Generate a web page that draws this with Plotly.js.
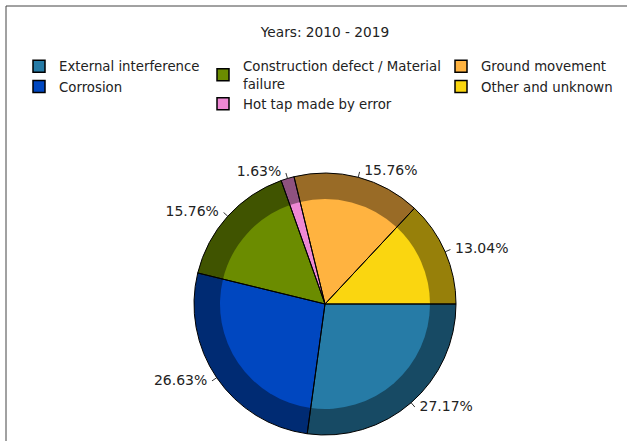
<!DOCTYPE html>
<html><head><meta charset="utf-8">
<script src="https://cdn.plot.ly/plotly-3.0.1.min.js"></script>
<style>html,body{margin:0;padding:0;background:#fff}#chart{width:627px;height:441px}</style>
</head><body><div id="chart"></div>
<script>
// ---- data ----
const chartTitle = 'Years: 2010 - 2019';
const categories = ['External interference', 'Corrosion', 'Construction defect / Material<br>failure',
                    'Hot tap made by error', 'Ground movement', 'Other and unknown'];
const shares = [27.17, 26.63, 15.76, 1.63, 15.76, 13.04];
const lightColors = ['#267ba6', '#0047c0', '#6b8c00', '#ee88d4', '#ffb340', '#fad610'];
const darkColors  = ['#174a64', '#002b73', '#405400', '#8f527f', '#996b26', '#97800a'];
const legendColumns = [[0, 1], [2, 3], [4, 5]];

// ---- layout helpers ----
const W = 627, H = 441;
const cx = 325, cy = 304, rOuter = 131, rInner = 105, rText = 137, rPolar = 137;
function dom(r) {
  return {x: [(cx - r) / W, (cx + r) / W], y: [(H - cy - r) / H, (H - cy + r) / H]};
}
const FONT = 'DejaVu Sans, Verdana, sans-serif';
const TXT = '#222';
const NB = '\u00a0';
const common = {type: 'pie', sort: false, direction: 'clockwise', rotation: 90,
                labels: categories, values: shares, showlegend: false};

const traces = [];
// outer dark ring
traces.push(Object.assign({}, common, {
  marker: {colors: darkColors, line: {width: 0}},
  domain: dom(rOuter), textinfo: 'none', hoverinfo: 'skip'
}));
// inner light pie
traces.push(Object.assign({}, common, {
  marker: {colors: lightColors, line: {width: 0}},
  domain: dom(rInner), textinfo: 'none', hoverinfo: 'skip'
}));
// outline
traces.push(Object.assign({}, common, {
  marker: {colors: categories.map(() => 'rgba(0,0,0,0)'), line: {color: '#000', width: 1}},
  domain: dom(rOuter), textinfo: 'none',
  hovertemplate: '%{label}: %{value:.2f}%<extra></extra>'
}));
// leader ticks + percentage labels at each slice's mid angle
const total = shares.reduce((a, b) => a + b, 0);
const tickR = [], tickT = [], midT = [], textPos = [], textTpl = [];
let acc = 0;
shares.forEach(v => {
  const mid = (acc + v / 2) / total * 360;
  acc += v;
  tickR.push(rOuter, rText, null);
  tickT.push(mid, mid, null);
  midT.push(mid);
  const right = Math.cos(mid * Math.PI / 180) >= 0;
  textPos.push(right ? 'middle right' : 'middle left');
  textTpl.push(right ? NB + '%{customdata:.2f}%' : '%{customdata:.2f}%' + NB);
});
traces.push({type: 'scatterpolar', mode: 'lines', r: tickR, theta: tickT, cliponaxis: false,
  line: {color: '#333', width: 1}, showlegend: false, hoverinfo: 'skip', subplot: 'polar'});
traces.push({type: 'scatterpolar', mode: 'text', r: midT.map(() => rText), theta: midT,
  customdata: shares, texttemplate: textTpl, textposition: textPos, cliponaxis: false,
  textfont: {family: FONT, size: 14, color: TXT}, showlegend: false, hoverinfo: 'skip', subplot: 'polar'});

function legendAt(xpx) {
  return {x: xpx / W, xanchor: 'left', y: 1 - 51 / H, yanchor: 'top', orientation: 'v',
          bgcolor: 'rgba(0,0,0,0)', borderwidth: 0, tracegroupgap: 0,
          font: {family: FONT, size: 13.3, color: TXT}};
}

// legend swatches (zero-size shapes that only feed the legends)
const legendIds = ['legend', 'legend2', 'legend3'];
const legendShapes = [];
legendColumns.forEach((idx, k) => {
  idx.forEach(i => {
    legendShapes.push({type: 'rect', xref: 'paper', yref: 'paper', layer: 'below',
      x0: cx / W, x1: cx / W, y0: (H - cy) / H, y1: (H - cy) / H,
      fillcolor: lightColors[i], line: {color: '#000', width: 1.5},
      showlegend: true, legend: legendIds[k], name: categories[i]});
  });
});

const layout = {
  width: W, height: H,
  margin: {l: 0, r: 0, t: 0, b: 0},
  paper_bgcolor: '#fff',
  font: {family: FONT, size: 13, color: TXT},
  title: {text: chartTitle, x: cx / W, xanchor: 'center', y: 1 - 32 / H, yanchor: 'middle',
          font: {family: FONT, size: 13.7, color: TXT}},
  polar: {domain: dom(rPolar), bgcolor: 'rgba(0,0,0,0)', hole: 0,
          radialaxis: {visible: false, range: [0, rPolar]},
          angularaxis: {visible: false, rotation: 0, direction: 'clockwise'}},
  legend: legendAt(19), legend2: legendAt(203), legend3: legendAt(441),
  shapes: legendShapes.concat([
    {type: 'line', xref: 'paper', yref: 'paper', x0: 6 / W, x1: 1, y0: 1 - 6 / H, y1: 1 - 6 / H,
     line: {color: '#444', width: 1}},
    {type: 'line', xref: 'paper', yref: 'paper', x0: 6 / W, x1: 6 / W, y0: 0, y1: 1 - 6 / H,
     line: {color: '#444', width: 1}}
  ])
};

Plotly.newPlot('chart', traces, layout, {displayModeBar: false});
</script></body></html>
